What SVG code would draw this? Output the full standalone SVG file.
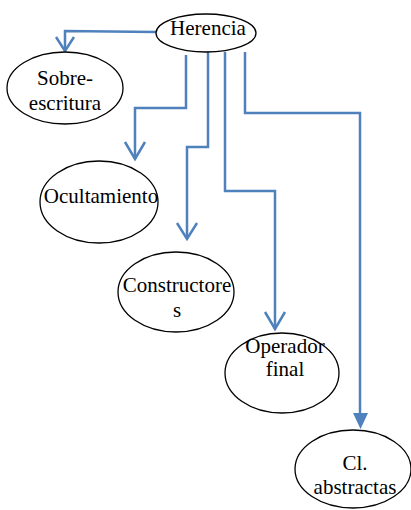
<svg xmlns="http://www.w3.org/2000/svg" width="411" height="510" viewBox="0 0 411 510">
<style>
.n ellipse{fill:#fff;stroke:#000;stroke-width:1.3}
.n text{font-size:21px;fill:#000;text-anchor:middle}
.c path{fill:none;stroke:#4F81BD;stroke-width:2.5}
.c path.f{fill:#4F81BD;stroke:none}
</style>
<rect width="411" height="510" fill="#fff"/>
<g class="c" id="connectors">
<path d="M156,32 L65,31 L65,51"/>
<path d="M56,37 L65,51 L74,37"/>
<path d="M186,55 L186,108 L135,108 L135,159"/>
<path d="M125,142 L135,159 L145,142"/>
<path d="M208,52 L208,147 L187,147 L187,239"/>
<path d="M177,223 L187,239 L197,223"/>
<path d="M225,52 L225,191 L275,191 L275,329"/>
<path d="M265,312 L275,329 L285,312"/>
<path d="M245,52 L245,113 L360,113 L360,415"/>
<path class="f" d="M353,413 L368,413 L360.5,429 Z"/>
</g>
<g font-family="Liberation Serif, Tinos, Times New Roman, Noto Serif, DejaVu Serif, serif">
<g class="n" id="herencia"><ellipse cx="206" cy="33" rx="50" ry="19"/><text x="208" y="35">Herencia</text></g>
<g class="n" id="sobreescritura"><ellipse cx="65" cy="88" rx="58" ry="36"/><text x="65" y="85">Sobre-</text><text x="65" y="110">escritura</text></g>
<g class="n" id="ocultamiento"><ellipse cx="99" cy="202" rx="59" ry="41"/><text x="101" y="203">Ocultamiento</text></g>
<g class="n" id="constructores"><ellipse cx="176" cy="292" rx="58" ry="40"/><text x="177" y="292">Constructore</text><text x="177" y="317">s</text></g>
<g class="n" id="operadorfinal"><ellipse cx="282" cy="373" rx="57" ry="40"/><text x="285" y="353">Operador</text><text x="285" y="376">final</text></g>
<g class="n" id="clabstractas"><ellipse cx="353" cy="469" rx="58" ry="39"/><text x="355" y="470">Cl.</text><text x="355" y="494">abstractas</text></g>
</g>
</svg>
